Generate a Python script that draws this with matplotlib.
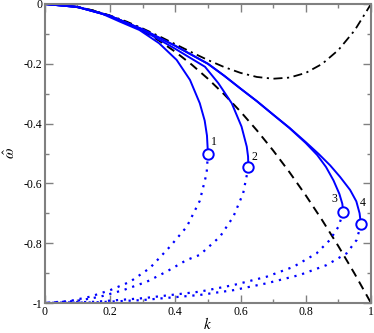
import matplotlib
matplotlib.use("Agg")
import matplotlib.pyplot as plt
from matplotlib.ticker import MultipleLocator

# ── data ─────────────────────────────────────────────────────────────────────
k_ref = [0.0, 0.05, 0.1, 0.15, 0.2, 0.25, 0.3, 0.35, 0.4, 0.45, 0.5,
         0.55, 0.6, 0.65, 0.7, 0.75, 0.8, 0.85, 0.9, 0.95, 1.0]
w_dashed = [0.0, -0.0025, -0.01, -0.0225, -0.04, -0.0625, -0.09, -0.1225,
            -0.16, -0.2025, -0.25, -0.3025, -0.36, -0.4225, -0.49, -0.5625,
            -0.64, -0.7225, -0.81, -0.9025, -1.0]
w_dashdot = [0.0, -0.0025, -0.0099, -0.022, -0.0384, -0.0586, -0.0819, -0.1075,
             -0.1344, -0.1615, -0.1875, -0.211, -0.2304, -0.244, -0.2499,
             -0.2461, -0.2304, -0.2005, -0.1539, -0.088, 0.0]

# solid branches (origin -> fold point)
k1 = [0.0, 0.1, 0.17, 0.23, 0.29, 0.35, 0.404, 0.445, 0.475, 0.49, 0.497, 0.5]
w1 = [0.0, -0.01, -0.03, -0.059, -0.087, -0.131, -0.187, -0.254, -0.332, -0.39, -0.44, -0.5]
k2 = [0.0, 0.1, 0.2, 0.3, 0.4, 0.45, 0.491, 0.532, 0.573, 0.603, 0.619, 0.623, 0.624]
w2 = [0.0, -0.01, -0.04, -0.088, -0.15, -0.183, -0.21, -0.265, -0.332, -0.41, -0.477, -0.51, -0.546]
k3 = [0.0, 0.1, 0.2, 0.3, 0.4, 0.5, 0.55, 0.6, 0.65, 0.7, 0.75, 0.8, 0.835,
      0.862, 0.885, 0.903, 0.912, 0.915]
w3 = [0.0, -0.01, -0.04, -0.085, -0.14, -0.2, -0.24, -0.283, -0.325, -0.37,
      -0.415, -0.465, -0.505, -0.545, -0.59, -0.635, -0.668, -0.696]
k4 = [0.0, 0.1, 0.2, 0.3, 0.4, 0.5, 0.55, 0.6, 0.65, 0.7, 0.75, 0.8, 0.84,
      0.875, 0.905, 0.936, 0.955, 0.965, 0.969]
w4 = [0.0, -0.01, -0.04, -0.085, -0.14, -0.2, -0.24, -0.283, -0.325, -0.37,
      -0.414, -0.462, -0.502, -0.54, -0.578, -0.622, -0.66, -0.7, -0.737]

# dotted branches (fold point -> (0, -1))
d1k = [0.5, 0.496, 0.475, 0.435, 0.383, 0.322, 0.261, 0.2, 0.138, 0.077, 0.0]
d1w = [-0.5, -0.566, -0.658, -0.745, -0.812, -0.883, -0.929, -0.957, -0.979, -0.993, -1.0]
d2k = [0.624, 0.608, 0.578, 0.537, 0.475, 0.435, 0.373, 0.312, 0.24, 0.169, 0.097, 0.0]
d2w = [-0.546, -0.633, -0.711, -0.778, -0.839, -0.856, -0.895, -0.929, -0.957, -0.979, -0.993, -1.0]
d3k = [0.915, 0.9, 0.874, 0.833, 0.762, 0.68, 0.578, 0.475, 0.3, 0.15, 0.0]
d3w = [-0.696, -0.745, -0.789, -0.834, -0.879, -0.912, -0.94, -0.962, -0.984, -0.996, -1.0]
d4k = [0.969, 0.956, 0.925, 0.864, 0.782, 0.68, 0.578, 0.475, 0.3, 0.15, 0.0]
d4w = [-0.737, -0.789, -0.834, -0.873, -0.906, -0.934, -0.957, -0.973, -0.99, -0.998, -1.0]

fold_k = [0.5, 0.624, 0.915, 0.969]
fold_w = [-0.5, -0.546, -0.696, -0.737]
fold_labels = ["1", "2", "3", "4"]
label_k = [0.518, 0.644, 0.887, 0.974]
label_w = [-0.462, -0.512, -0.652, -0.667]

BLUE = "#0000ff"
GRAY = "#808080"

plt.rcParams["font.family"] = ["Liberation Serif", "DejaVu Serif"]
plt.rcParams["mathtext.fontset"] = "stix"

fig = plt.figure(figsize=(3.74, 3.33), dpi=100)
ax = fig.add_axes([0.120, 0.090, 0.872, 0.898])

ax.plot(k_ref, w_dashed, color="black", lw=1.4, ls=(0, (4.5, 3)))
ax.plot(k_ref, w_dashdot, color="black", lw=1.3, ls=(0, (5, 2.5, 1.2, 2.5)))

for ks, ws in [(k1, w1), (k2, w2), (k3, w3), (k4, w4)]:
    ax.plot(ks, ws, color=BLUE, lw=1.4)
for ks, ws in [(d1k, d1w), (d2k, d2w), (d3k, d3w), (d4k, d4w)]:
    ax.plot(ks, ws, color=BLUE, lw=1.6, ls=(0, (1, 2.6)))

ax.plot(fold_k, fold_w, ls="none", marker="o", ms=7.5, mfc="white",
        mec=BLUE, mew=1.4, zorder=5)
for lk, lw_, lab in zip(label_k, label_w, fold_labels):
    ax.text(lk, lw_, lab, fontsize=8.5, ha="center", va="center")

ax.set_xlim(0, 1)
ax.set_ylim(-1, 0)
ax.xaxis.set_minor_locator(MultipleLocator(0.1))
ax.yaxis.set_minor_locator(MultipleLocator(0.1))
ax.set_xticks([0, 0.2, 0.4, 0.6, 0.8, 1.0])
ax.set_yticks([-1, -0.8, -0.6, -0.4, -0.2, 0])
ax.set_xticklabels(["0", "0.2", "0.4", "0.6", "0.8", "1"])
ax.set_yticklabels(["-1", "-0.8", "-0.6", "-0.4", "-0.2", "0"])
ax.tick_params(which="both", direction="in", top=True, right=True,
               labelsize=8.5, color=GRAY, pad=2)
ax.tick_params(which="major", length=6, width=1.0)
ax.tick_params(which="minor", length=3, width=1.0)
for side in ax.spines.values():
    side.set_color(GRAY)
    side.set_linewidth(1.5)

ax.set_xlabel("$k$", fontsize=11, labelpad=-1)
ax.set_ylabel(r"$\hat{\omega}$", fontsize=11, labelpad=4,
              family="DejaVu Sans")

fig.savefig("out.png", dpi=100)
